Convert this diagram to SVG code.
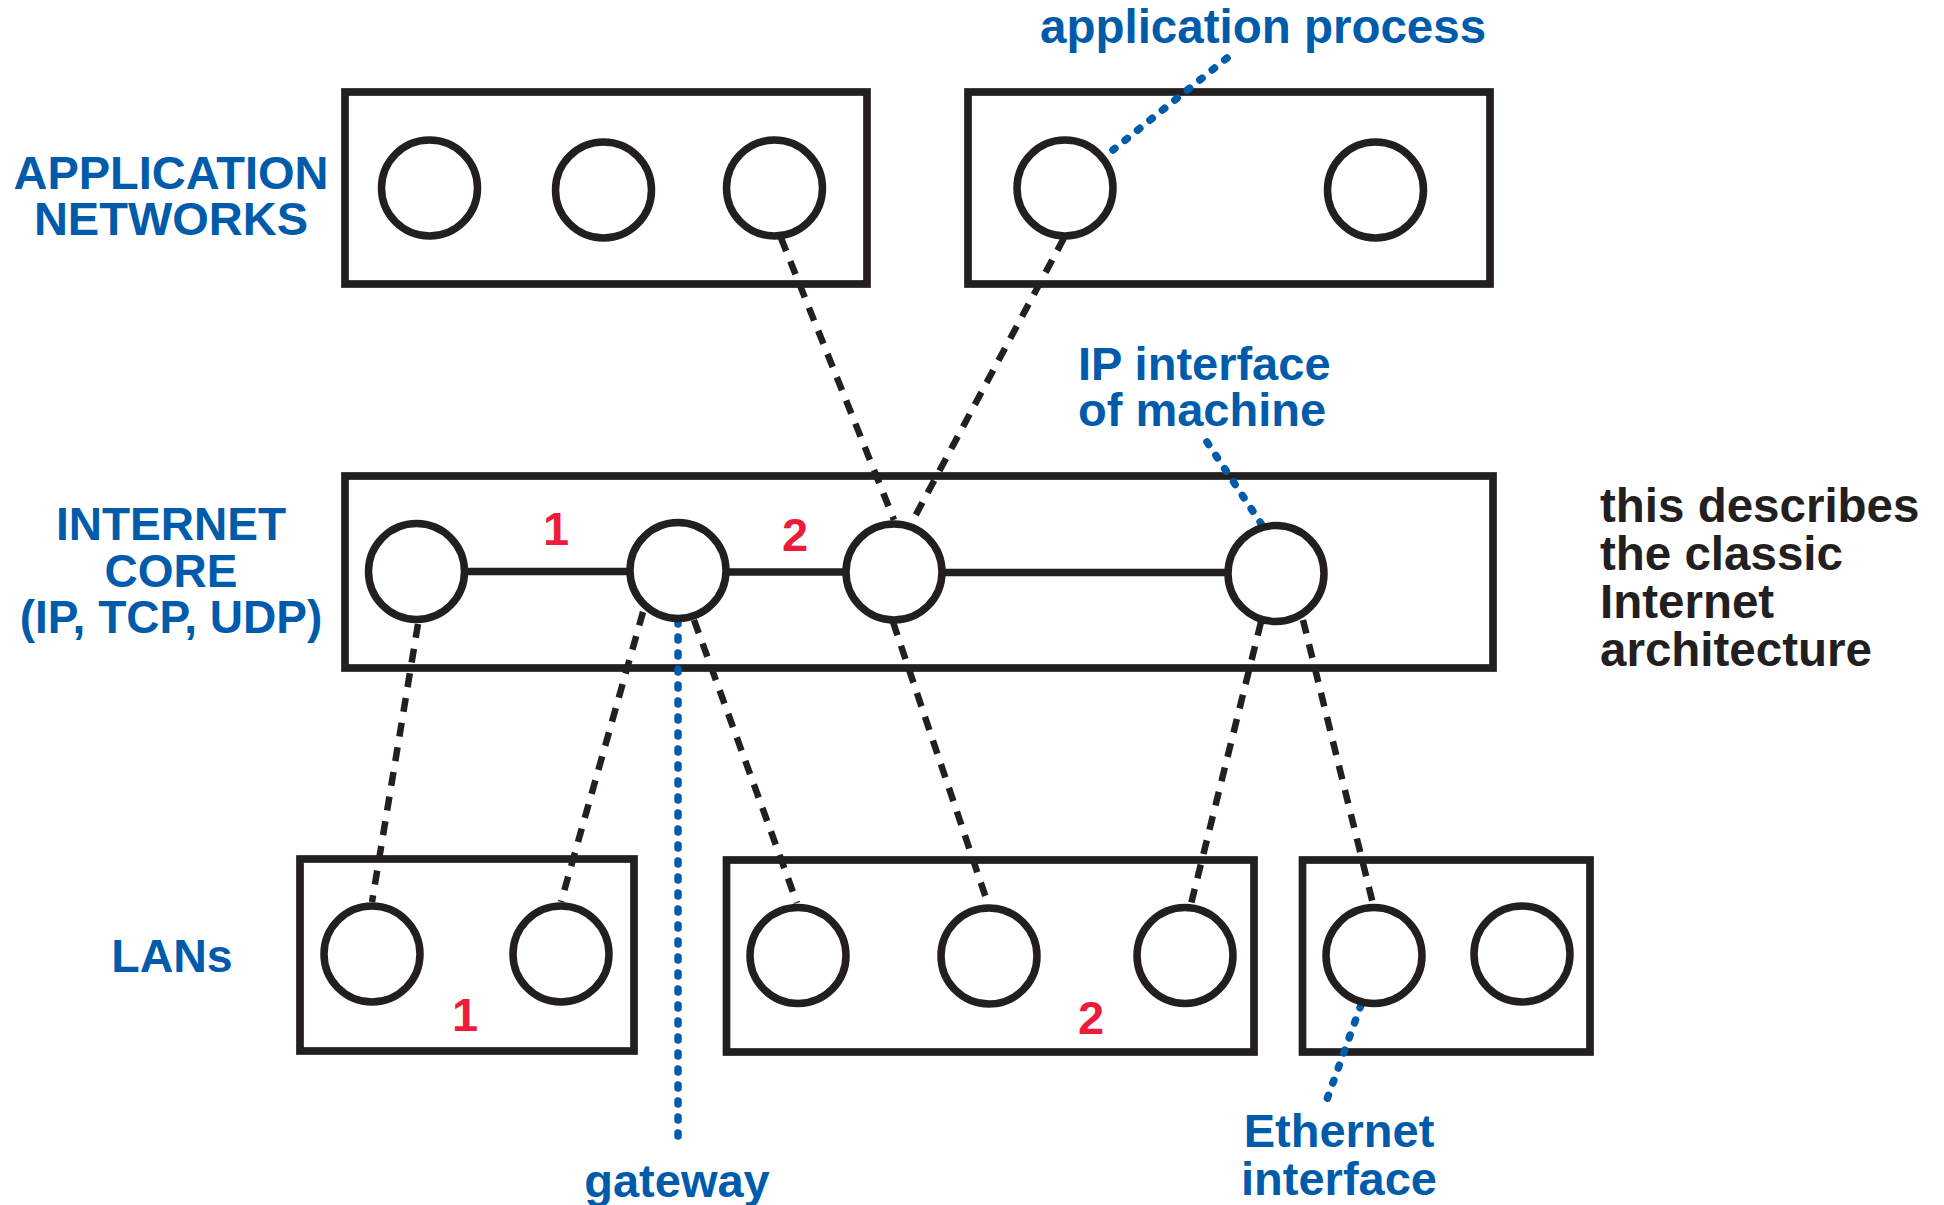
<svg xmlns="http://www.w3.org/2000/svg" width="1944" height="1205" viewBox="0 0 1944 1205">
  <style>
    .box { fill: none; stroke: #231f20; stroke-width: 7.7; }
    .node { fill: #ffffff; stroke: #231f20; stroke-width: 7.5; }
    .link { stroke: #231f20; stroke-width: 7.5; fill: none; }
    .dash { stroke: #231f20; stroke-width: 6.5; stroke-dasharray: 14 11; fill: none; }
    .dot { stroke: #005baa; stroke-width: 7.5; stroke-dasharray: 3 13; stroke-linecap: round; fill: none; }
    .lbl { font-family: "Liberation Sans", Arial, sans-serif; font-weight: bold; font-size: 47px; fill: #005baa; }
    .note { font-family: "Liberation Sans", Arial, sans-serif; font-weight: bold; font-size: 47.5px; fill: #231f20; }
    .num { font-family: "Liberation Sans", Arial, sans-serif; font-weight: bold; font-size: 47px; fill: #ed1c3a; text-anchor: middle; }
    .mid { text-anchor: middle; }
  </style>

  <rect width="1944" height="1205" fill="#ffffff"/>

  <!-- layer containers -->
  <g id="app-network-1"><rect class="box" x="345" y="92" width="522" height="192"/></g>
  <g id="app-network-2"><rect class="box" x="968" y="92" width="522" height="192"/></g>
  <g id="internet-core"><rect class="box" x="345" y="476" width="1148" height="192"/></g>
  <g id="lan-1"><rect class="box" x="300" y="859" width="334" height="192"/></g>
  <g id="lan-2"><rect class="box" x="726.5" y="860" width="527.5" height="192"/></g>
  <g id="lan-3"><rect class="box" x="1302.5" y="860" width="287.5" height="192"/></g>

  <!-- connectors: links, layer mappings and label leaders -->
  <g id="connectors">
    <line class="link" x1="464" y1="571.5" x2="631" y2="571.5"/>
    <line class="link" x1="725" y1="572" x2="847" y2="572"/>
    <line class="link" x1="941" y1="572.5" x2="1229" y2="572.5"/>

    <line class="dash" x1="781" y1="238" x2="894" y2="520"/>
    <line class="dash" x1="1064" y1="238" x2="912" y2="522"/>
    <line class="dash" x1="418" y1="624" x2="372" y2="902"/>
    <line class="dash" x1="643" y1="612" x2="561" y2="902"/>
    <line class="dash" x1="694" y1="620" x2="797" y2="903"/>
    <line class="dash" x1="893" y1="622" x2="988" y2="904"/>
    <line class="dash" x1="1261" y1="622" x2="1191" y2="904"/>
    <line class="dash" x1="1303" y1="620" x2="1373" y2="904"/>

    <line class="dot" x1="1227" y1="58" x2="1113" y2="150"/>
    <line class="dot" x1="1207" y1="442" x2="1262" y2="525"/>
    <line class="dot" x1="678" y1="621" x2="678" y2="1140"/>
    <line class="dot" x1="1361" y1="1005" x2="1326" y2="1102"/>
  </g>

  <!-- application processes -->
  <g id="app-proc-1"><circle class="node" cx="429.5" cy="188" r="48"/></g>
  <g id="app-proc-2"><circle class="node" cx="603.5" cy="190" r="48"/></g>
  <g id="app-proc-3"><circle class="node" cx="774.5" cy="188" r="48"/></g>
  <g id="app-proc-4"><circle class="node" cx="1065" cy="188" r="48"/></g>
  <g id="app-proc-5"><circle class="node" cx="1375.5" cy="190" r="48"/></g>

  <!-- IP interfaces -->
  <g id="ip-1"><circle class="node" cx="416.5" cy="571.5" r="48"/></g>
  <g id="ip-2"><circle class="node" cx="678" cy="570.5" r="48"/></g>
  <g id="ip-3"><circle class="node" cx="894" cy="572" r="48"/></g>
  <g id="ip-4"><circle class="node" cx="1276" cy="573.5" r="48"/></g>

  <!-- Ethernet interfaces -->
  <g id="eth-1"><circle class="node" cx="372" cy="954" r="48"/></g>
  <g id="eth-2"><circle class="node" cx="561" cy="954" r="48"/></g>
  <g id="eth-3"><circle class="node" cx="798" cy="955.5" r="48"/></g>
  <g id="eth-4"><circle class="node" cx="989" cy="956" r="48"/></g>
  <g id="eth-5"><circle class="node" cx="1185" cy="955.5" r="48"/></g>
  <g id="eth-6"><circle class="node" cx="1374" cy="955.5" r="48"/></g>
  <g id="eth-7"><circle class="node" cx="1522" cy="954" r="48"/></g>

  <!-- network numbers -->
  <text class="num" x="556" y="545">1</text>
  <text class="num" x="795" y="551">2</text>
  <text class="num" x="465" y="1031">1</text>
  <text class="num" x="1091" y="1034">2</text>

  <!-- layer labels -->
  <text class="lbl mid" x="171" y="188.5">APPLICATION<tspan x="171" dy="46.5">NETWORKS</tspan></text>
  <text class="lbl mid" x="171" y="540" style="font-size:46px">INTERNET<tspan x="171" dy="46.5">CORE</tspan><tspan x="171" dy="46.5">(IP, TCP, UDP)</tspan></text>
  <text class="lbl mid" x="172" y="972" style="font-size:46.5px">LANs</text>

  <!-- callouts -->
  <text class="lbl" x="1040" y="43" style="font-size:47.5px">application process</text>
  <text class="lbl" x="1078" y="379.5">IP interface<tspan x="1078" dy="46">of machine</tspan></text>
  <text class="lbl mid" x="677" y="1197">gateway</text>
  <text class="lbl mid" x="1339" y="1147">Ethernet<tspan x="1339" dy="48">interface</tspan></text>

  <!-- side note -->
  <text class="note" x="1600" y="522">this describes<tspan x="1600" dy="48">the classic</tspan><tspan x="1600" dy="48">Internet</tspan><tspan x="1600" dy="48">architecture</tspan></text>
</svg>
